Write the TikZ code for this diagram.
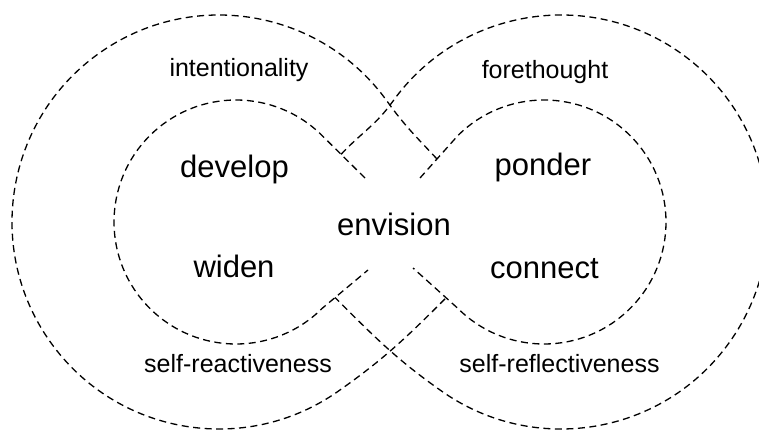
\documentclass[tikz,border=0pt]{standalone}
\usepackage{fontspec}
\setmainfont{Liberation Sans}
\usetikzlibrary{calc}
\begin{document}
\begin{tikzpicture}[x=1pt,y=1pt,
  loop/.style={draw=black,line width=1.3pt,dash pattern=on 7pt off 4.5pt},
  big/.style={inner sep=0pt,anchor=base,font=\fontsize{31}{31}\selectfont},
  small/.style={inner sep=0pt,anchor=base,font=\fontsize{25}{25}\selectfont}]
\useasboundingbox (0,0) rectangle (759,429);
\clip (0,0) rectangle (759,429);
% centres
\coordinate (OLc) at (219,207);
\coordinate (ORc) at (561,207);
\coordinate (ILc) at (236,207);
\coordinate (IRc) at (544,207);
% gap ends near the middle
\coordinate (gTL) at (365,251);
\coordinate (gBL) at (368,159);
\coordinate (gTR) at (420,251);
\coordinate (gBR) at (413,161);
% points where inner loops leave their circles
\coordinate (IL45) at ($(ILc)+(45:122pt)$);
\coordinate (IL315) at ($(ILc)+(315:122pt)$);
\coordinate (IR135) at ($(IRc)+(135:122pt)$);
\coordinate (IR225) at ($(IRc)+(225:122pt)$);
% junctions
\coordinate (TTL) at ($(IL45)!0.44!(gTL)$);
\coordinate (TBL) at ($(IL315)!0.28!(gBL)$);
\coordinate (TTR) at ($(IR135)!0.55!(gTR)$);
\coordinate (TBR) at ($(IR225)!0.26!(gBR)$);
% inner loops
\draw[loop] (gTL) -- (IL45) arc[start angle=45,end angle=315,radius=122pt] -- (gBL);
\draw[loop] (gTR) -- (IR135) arc[start angle=135,end angle=-135,radius=122pt] -- (gBR);
% outer loops
\draw[loop] (TTR) to[out=133,in=-54.5] ($(OLc)+(35.5:207pt)$)
  arc[start angle=35.5,end angle=305,radius=207pt]
  to[out=35,in=225] (TBR);
\draw[loop] (TTL) to[out=47,in=-125.5] ($(ORc)+(144.5:207pt)$)
  arc[start angle=144.5,end angle=-125,radius=207pt]
  to[out=145,in=-45] (TBL);
% texts
\node[small] (intent) at (239,352) {intentionality};
\node[small] (fore) at (545,350) {forethought};
\node[big] (develop) at (234.5,251.7) {develop};
\node[big] (ponder) at (543,253.3) {ponder};
\node[big] (envision) at (394,194) {envision};
\node[big] (widen) at (234,152) {widen};
\node[big] (connect) at (544.5,151) {connect};
\node[small] (sreact) at (238,57) {self-reactiveness};
\node[small] (sreflect) at (559.5,57) {self-reflectiveness};
\end{tikzpicture}
\end{document}
